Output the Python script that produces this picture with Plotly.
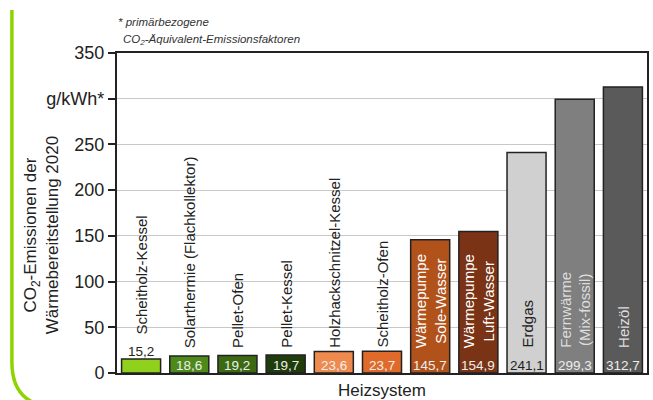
import plotly.graph_objects as go

categories = ["Scheitholz-Kessel", "Solarthermie (Flachkollektor)", "Pellet-Ofen", "Pellet-Kessel",
              "Holzhackschnitzel-Kessel", "Scheitholz-Ofen", "Wärmepumpe Sole-Wasser",
              "Wärmepumpe Luft-Wasser", "Erdgas", "Fernwärme (Mix-fossil)", "Heizöl"]
bar_labels = ["Scheitholz-Kessel", "Solarthermie (Flachkollektor)", "Pellet-Ofen", "Pellet-Kessel",
              "Holzhackschnitzel-Kessel", "Scheitholz-Ofen", "Wärmepumpe<br>Sole-Wasser",
              "Wärmepumpe<br>Luft-Wasser", "Erdgas", "Fernwärme<br>(Mix-fossil)", "Heizöl"]
values = [15.2, 18.6, 19.2, 19.7, 23.6, 23.7, 145.7, 154.9, 241.1, 299.3, 312.7]
value_texts = ["15,2", "18,6", "19,2", "19,7", "23,6", "23,7", "145,7", "154,9", "241,1", "299,3", "312,7"]
colors = ["#8fd11c", "#4e8a1a", "#3b6a13", "#1f3c0b", "#ef8a4e", "#df6a2a",
          "#b2521b", "#7a3314", "#d0d0d0", "#7f7f7f", "#5a5a5a"]
label_colors = ["#222", "#222", "#222", "#222", "#222", "#222",
                "#ffffff", "#ffffff", "#222", "#dddddd", "#dddddd"]
value_colors = ["#222", "#eeeeee", "#eeeeee", "#eeeeee", "#eeeeee", "#eeeeee",
                "#eeeeee", "#eeeeee", "#222", "#eeeeee", "#eeeeee"]
y_tickvals = [0, 50, 100, 150, 200, 250, 300, 350]
y_ticktext = ["0", "50", "100", "150", "200", "250", "g/kWh*", "350"]

W, H = 653, 400
ML, MR, MT, MB = 117, 4, 53, 27
PW, PH = W - ML - MR, H - MT - MB


def px(x):
    return (x - ML) / PW


def py(y):
    return (H - MB - y) / PH


FONT = "Liberation Sans, Arial, sans-serif"

fig = go.Figure()
fig.add_trace(go.Bar(
    x=categories, y=values,
    marker=dict(color=colors, line=dict(color="#222222", width=1.5)),
    hoverinfo="skip",
))

annotations = []
for i, (c, v) in enumerate(zip(categories, values)):
    # value label
    if i == 0:
        annotations.append(dict(x=c, y=v, xref="x", yref="y", text=value_texts[i], showarrow=False,
                                yanchor="bottom", yshift=-2,
                                font=dict(family=FONT, size=13.5, color=value_colors[i])))
    else:
        annotations.append(dict(x=c, y=0, xref="x", yref="y", text=value_texts[i], showarrow=False,
                                yanchor="bottom", yshift=-2,
                                font=dict(family=FONT, size=13.5, color=value_colors[i])))
    # category label (rotated)
    annotations.append(dict(x=c, y=0, xref="x", yref="y", text=bar_labels[i], showarrow=False,
                            textangle=-90, yanchor="bottom", xanchor="center",
                            yshift=36 if i == 0 else 23,
                            font=dict(family=FONT, size=15, color=label_colors[i])))

annotations += [
    dict(x=px(41), y=py(235), xref="paper", yref="paper", showarrow=False, textangle=-90,
         text="CO<sub>2</sub>-Emissionen der<br>Wärmebereitstellung 2020",
         font=dict(family=FONT, size=17, color="#222"), xanchor="center", yanchor="middle"),
    dict(x=px(383), y=py(390), xref="paper", yref="paper", showarrow=False, text="Heizsystem",
         font=dict(family=FONT, size=17, color="#222"), xanchor="center", yanchor="middle"),
    dict(x=px(116), y=py(22), xref="paper", yref="paper", showarrow=False,
         text="<i>* primärbezogene</i>", xanchor="left", yanchor="middle",
         font=dict(family=FONT, size=11.5, color="#333")),
    dict(x=px(121), y=py(40), xref="paper", yref="paper", showarrow=False,
         text="<i>CO<sub>2</sub>-Äquivalent-Emissionsfaktoren</i>", xanchor="left", yanchor="middle",
         font=dict(family=FONT, size=11.5, color="#333")),
]

# green frame at the left
x0 = px(11.5)
path = (f"M {x0},{py(10)} L {x0},{py(362)} "
        f"Q {x0},{py(392)} {px(32)},{py(402)}")
shapes = [dict(type="path", xref="paper", yref="paper", path=path,
               line=dict(color="#8fd400", width=3.5), layer="above")]

fig.update_layout(
    width=W, height=H,
    margin=dict(l=ML, r=MR, t=MT, b=MB),
    paper_bgcolor="white", plot_bgcolor="white",
    showlegend=False,
    bargap=0.19,
    font=dict(family=FONT, color="#222"),
    annotations=annotations,
    shapes=shapes,
    xaxis=dict(showticklabels=False, ticks="", showgrid=False, showline=True,
               linecolor="#222", linewidth=2, mirror=True, zeroline=False, fixedrange=True),
    yaxis=dict(range=[0, 350], tickvals=y_tickvals, ticktext=y_ticktext,
               tickfont=dict(family=FONT, size=18, color="#222"),
               ticks="outside", ticklen=7, tickwidth=1.5, tickcolor="#222",
               showgrid=True, gridcolor="#c8c8c8", gridwidth=1,
               showline=True, linecolor="#222", linewidth=2, mirror=True, zeroline=False,
               fixedrange=True),
)

fig.write_html("out.html")
